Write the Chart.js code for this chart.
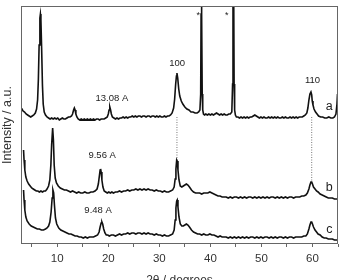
<!DOCTYPE html>
<html>
<head>
<meta charset="utf-8">
<script src="https://cdn.jsdelivr.net/npm/chart.js@4/dist/chart.umd.min.js"></script>
<style>
html,body{margin:0;padding:0;background:#fff;}
canvas{display:block;}
</style>
</head>
<body>
<canvas id="c" width="343" height="280"></canvas>
<script>
// ---- data (2θ in degrees, intensity in arbitrary stacked units) ----
const aX = [2.9,3.1,3.3,3.6,3.9,4.2,4.5,4.8,5.1,5.4,5.7,5.95,6.15,6.3,6.45,6.6,6.7,6.8,6.95,7.1,7.25,7.45,7.7,8.0,8.3,8.6,8.9,9.2,9.5,9.8,10.1,10.4,10.7,11.0,11.3,11.6,11.9,12.2,12.5,12.8,13.0,13.2,13.35,13.5,13.65,13.85,14.1,14.4,14.7,15.0,15.3,15.6,15.9,16.2,16.5,16.8,17.1,17.4,17.7,18.0,18.3,18.6,18.9,19.2,19.5,19.8,20.0,20.15,20.3,20.45,20.6,20.8,21.1,21.4,21.7,22.0,22.3,22.6,22.9,23.2,23.5,23.8,24.1,24.4,24.7,25.0,25.3,25.6,25.9,26.2,26.5,26.8,27.1,27.4,27.7,28.0,28.3,28.6,28.9,29.2,29.5,29.8,30.1,30.4,30.7,31.0,31.3,31.6,31.9,32.2,32.5,32.8,33.0,33.2,33.35,33.45,33.6,33.8,34.0,34.3,34.6,35.0,35.4,35.8,36.2,36.6,37.0,37.4,37.7,37.95,38.1,38.18,38.25,38.32,38.4,38.5,38.65,38.85,39.1,39.4,39.7,40.0,40.3,40.6,40.9,41.2,41.5,41.8,42.1,42.4,42.7,43.0,43.3,43.6,43.9,44.2,44.35,44.43,44.5,44.57,44.65,44.75,44.9,45.1,45.4,45.7,46.0,46.3,46.6,46.9,47.2,47.5,47.8,48.1,48.4,48.7,49.0,49.3,49.6,49.9,50.2,50.5,50.8,51.1,51.4,51.7,52.0,52.3,52.6,52.9,53.2,53.5,53.8,54.1,54.4,54.7,55.0,55.3,55.6,55.9,56.2,56.5,56.8,57.1,57.4,57.7,58.0,58.3,58.6,58.9,59.1,59.3,59.5,59.7,59.85,59.95,60.1,60.3,60.6,60.9,61.2,61.6,62.0,62.4,62.8,63.2,63.6,64.0,64.3,64.6,64.8,64.9,65.0];
const aY = [136,135,133,132,130,129,128,127,128,129,131,135,144,164,199,226,230,224,194,159,140,132,129,127,126,125,126,125,126,125,126,124,125,126,125,125,126,127,127,128,130,134,136,134,130,127,125,124,125,124,125,124,125,124,125,124,125,124,125,125,124,125,125,125,126,127,130,134,137,134,130,127,126,125,126,125,126,126,127,126,127,126,127,127,128,127,128,127,128,128,127,128,128,127,128,128,127,128,128,127,128,127,128,127,127,128,127,128,128,129,131,136,145,160,168,171,166,155,148,143,140,137,135,134,132,132,131,131,132,134,150,230,300,230,150,134,130,129,130,129,130,129,130,129,130,131,130,129,130,129,130,129,129,130,130,132,160,250,300,250,160,134,129,127,127,126,127,126,127,126,127,126,127,127,128,129,128,127,126,127,126,127,126,126,127,126,127,126,127,126,127,126,126,127,126,127,126,126,127,126,127,126,127,126,127,127,127,128,129,131,136,144,150,152,149,143,139,135,132,130,128,127,127,126,126,127,126,126,127,130,140,150];

const bX = [3.4,3.5,3.65,3.85,4.1,4.4,4.7,5.0,5.3,5.6,5.9,6.2,6.5,6.8,7.1,7.4,7.7,8.0,8.3,8.55,8.75,8.9,9.1,9.25,9.4,9.6,9.85,10.2,10.6,11.0,11.4,11.8,12.2,12.6,13.0,13.4,13.8,14.2,14.6,15.0,15.4,15.8,16.2,16.6,17.0,17.4,17.8,18.05,18.25,18.4,18.5,18.6,18.75,18.95,19.2,19.5,19.8,20.1,20.4,20.7,21.0,21.4,21.8,22.2,22.6,23.0,23.4,23.8,24.2,24.6,25.0,25.4,25.8,26.2,26.6,27.0,27.4,27.8,28.2,28.6,29.0,29.4,29.8,30.2,30.6,31.0,31.4,31.8,32.2,32.6,32.9,33.1,33.25,33.4,33.5,33.65,33.85,34.1,34.4,34.7,35.0,35.3,35.6,35.9,36.3,36.7,37.1,37.5,37.9,38.3,38.7,39.1,39.5,39.9,40.3,40.7,41.1,41.5,41.9,42.3,42.7,43.1,43.5,43.9,44.3,44.7,45.1,45.5,45.9,46.3,46.7,47.1,47.5,47.9,48.3,48.7,49.1,49.5,49.9,50.3,50.7,51.1,51.5,51.9,52.3,52.7,53.1,53.5,53.9,54.3,54.7,55.1,55.5,55.9,56.3,56.7,57.1,57.5,57.9,58.3,58.7,59.0,59.3,59.5,59.7,59.85,60.0,60.2,60.5,60.8,61.1,61.5,61.9,62.3,62.7,63.1,63.5,63.9,64.3,64.7,65.0];
const bY = [94,84,74,67,63,60,58,56,55,54,53,53,52,53,52,53,53,55,58,64,79,99,116,104,79,66,61,58,56,55,54,54,53,52,53,52,51,52,51,51,52,51,51,52,52,53,55,60,68,74,75,72,64,57,53,52,51,52,51,52,51,52,52,53,52,53,53,54,53,54,54,55,54,55,54,55,54,55,54,54,53,54,53,53,52,53,52,52,53,54,57,65,75,84,83,74,64,58,57,58,59,60,59,57,54,52,51,51,51,50,51,51,51,52,51,50,49,48,48,47,47,47,46,47,46,47,47,46,47,46,47,46,47,47,46,47,46,47,46,47,46,47,46,47,47,46,47,46,47,46,47,46,47,47,46,47,47,47,48,48,49,51,55,59,62,62,60,57,55,53,52,50,49,48,47,46,46,46,45,45,45];

const cX = [3.4,3.5,3.65,3.85,4.1,4.5,4.9,5.3,5.7,6.1,6.5,6.9,7.3,7.7,8.0,8.3,8.55,8.8,9.0,9.15,9.3,9.45,9.65,9.9,10.3,10.7,11.1,11.5,11.9,12.3,12.7,13.1,13.5,13.9,14.3,14.7,15.1,15.5,15.9,16.3,16.7,17.1,17.5,17.9,18.2,18.4,18.6,18.75,18.9,19.1,19.35,19.6,19.9,20.2,20.6,21.0,21.4,21.8,22.2,22.6,23.0,23.4,23.8,24.2,24.6,25.0,25.4,25.8,26.2,26.6,27.0,27.4,27.8,28.2,28.6,29.0,29.4,29.8,30.2,30.6,31.0,31.4,31.8,32.2,32.6,32.9,33.1,33.25,33.4,33.5,33.65,33.85,34.1,34.4,34.7,35.0,35.3,35.6,35.9,36.3,36.7,37.1,37.5,37.9,38.3,38.7,39.1,39.5,39.9,40.3,40.7,41.1,41.5,41.9,42.3,42.7,43.1,43.5,43.9,44.3,44.7,45.1,45.5,45.9,46.3,46.7,47.1,47.5,47.9,48.3,48.7,49.1,49.5,49.9,50.3,50.7,51.1,51.5,51.9,52.3,52.7,53.1,53.5,53.9,54.3,54.7,55.1,55.5,55.9,56.3,56.7,57.1,57.5,57.9,58.3,58.7,59.0,59.3,59.5,59.7,59.85,60.0,60.2,60.5,60.8,61.1,61.5,61.9,62.3,62.7,63.1,63.5,63.9,64.3,64.7,65.0];
const cY = [54,44,34,27,23,20,18,17,16,15,15,14,14,15,16,18,22,32,46,54,51,39,26,20,16,14,13,12,11,10,10,9,8,8,7,7,6,7,6,7,7,7,8,9,12,17,21,22,20,15,11,9,9,8,9,9,8,9,10,9,10,10,11,10,11,11,10,11,11,10,11,10,11,10,10,9,10,9,9,8,9,8,8,9,10,14,24,36,43,44,37,27,20,18,18,19,20,19,17,14,12,11,10,10,9,10,9,9,10,9,9,8,7,8,7,7,7,6,7,6,7,6,7,6,7,6,7,6,7,7,6,7,6,7,6,7,7,6,7,6,7,6,7,7,6,7,6,7,7,6,7,7,7,7,8,8,10,15,19,22,22,20,17,14,12,10,9,7,6,6,5,5,5,4,4,4];

// dotted guide lines (2θ position, from / to intensity)
const guideX = [33.45, 59.85];
const guideTop = [127, 127];
const guideBottom = [84, 62];

const xTickValues = [5,10,15,20,25,30,35,40,45,50,55,60,65];

const annText = ['*','*','100','110','13.08 A','a','9.56 A','b','9.48 A','c'];
const annX    = [37.6,43.2,33.5,60.0,20.7,63.3,18.8,63.3,18.0,63.3];
const annY    = [228,228,181,164,146,137,89,56,34,14];
const annSize = [9,9,9.5,9.5,9.5,12.5,9.5,12.5,9.5,12.5];

// ---- chart ----
const toPts = (xs, ys) => xs.map((x, i) => ({x: x, y: ys[i]}));
const FONT = "'Liberation Sans', Arial, sans-serif";

const datasets = [
  {data: toPts(aX, aY)},
  {data: toPts(bX, bY)},
  {data: toPts(cX, cY)}
].map(d => Object.assign(d, {showLine: true, borderColor: '#111', borderWidth: 1.6, pointRadius: 0, tension: 0}));

guideX.forEach((gx, i) => {
  datasets.push({
    data: toPts([gx, gx], [guideTop[i], guideBottom[i]]),
    showLine: true, borderColor: '#777', borderWidth: 1, borderDash: [1, 1.5],
    pointRadius: 0
  });
});

const framePlugin = {
  id: 'frame',
  afterDraw(chart) {
    const {ctx, chartArea: a} = chart;
    ctx.save();
    ctx.strokeStyle = '#666';
    ctx.lineWidth = 1;
    ctx.strokeRect(Math.round(a.left) + 0.5, Math.round(a.top) + 0.5,
                   Math.round(a.right - a.left) - 1, Math.round(a.bottom - a.top) - 1);
    ctx.restore();
  }
};

const annPlugin = {
  id: 'ann',
  afterDatasetsDraw(chart) {
    const {ctx, scales: {x, y}} = chart;
    ctx.save();
    ctx.fillStyle = '#222';
    ctx.textAlign = 'center';
    ctx.textBaseline = 'middle';
    annText.forEach((t, i) => {
      ctx.font = annSize[i] + 'px ' + FONT;
      ctx.fillText(t, x.getPixelForValue(annX[i]), y.getPixelForValue(annY[i]));
    });
    ctx.restore();
  }
};

new Chart(document.getElementById('c'), {
  type: 'scatter',
  data: {datasets},
  plugins: [framePlugin, annPlugin],
  options: {
    responsive: false,
    animation: false,
    devicePixelRatio: 1,
    layout: {padding: {top: 6, right: 1, left: 0, bottom: 0}},
    plugins: {legend: {display: false}, tooltip: {enabled: false}},
    scales: {
      x: {
        type: 'linear', min: 2.9, max: 65,
        afterBuildTicks: s => { s.ticks = xTickValues.map(v => ({value: v})); },
        afterFit: s => { s.height = 36; },
        grid: {display: true, drawOnChartArea: false, drawTicks: true, tickLength: 3, color: '#666'},
        border: {display: false},
        ticks: {
          autoSkip: false, maxRotation: 0, padding: 5, color: '#333',
          font: {family: FONT, size: 11.5},
          callback: v => (v % 10 === 0 ? String(v) : '')
        },
        title: {display: true, text: '2θ / degrees', color: '#333',
                font: {family: FONT, size: 12}, padding: {top: 0, bottom: -8}}
      },
      y: {
        type: 'linear', min: 0, max: 238,
        afterFit: s => { s.width = 21; },
        grid: {display: false},
        border: {display: false},
        ticks: {display: false},
        title: {display: true, text: 'Intensity / a.u.', color: '#333',
                font: {family: FONT, size: 12.5}, padding: {top: 0, bottom: 0}}
      }
    }
  }
});
</script>
</body>
</html>
